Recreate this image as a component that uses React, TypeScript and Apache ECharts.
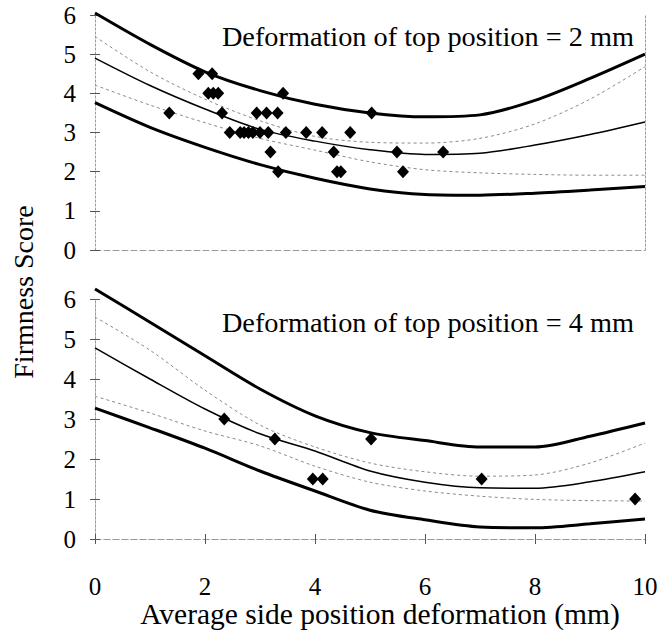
import React, { useEffect, useRef } from "react";
import * as echarts from "echarts";

// x positions at which the fitted curves / bands are read
const X_POINTS = [0, 1, 2, 3, 4, 5, 6, 7, 8, 9, 10];

// ---- Top panel: deformation of top position = 2 mm ----
const TOP_UPPER_PRED = [6.05, 5.25, 4.55, 4.07, 3.72, 3.5, 3.4, 3.45, 3.82, 4.38, 5.0];
const TOP_UPPER_CONF = [5.45, 4.55, 3.85, 3.3, 2.9, 2.75, 2.73, 2.85, 3.22, 3.85, 4.68];
const TOP_FIT = [4.9, 4.2, 3.6, 3.08, 2.78, 2.56, 2.44, 2.47, 2.68, 2.95, 3.27];
const TOP_LOWER_CONF = [4.21, 3.7, 3.25, 2.85, 2.55, 2.25, 2.05, 1.97, 1.93, 1.91, 1.91];
const TOP_LOWER_PRED = [3.76, 3.13, 2.62, 2.18, 1.83, 1.56, 1.42, 1.4, 1.45, 1.53, 1.62];
const TOP_OBS_X = [1.35, 1.88, 2.13, 2.06, 2.15, 2.24, 2.31, 2.94, 3.12, 3.32, 3.42, 2.45, 2.64, 2.71, 2.79, 2.87, 3.0, 3.15, 3.47, 3.84, 4.13, 4.64, 3.19, 4.34, 3.33, 4.4, 4.47, 5.03, 5.49, 5.6, 6.33];
const TOP_OBS_Y = [3.5, 4.5, 4.5, 4.0, 4.0, 4.0, 3.5, 3.5, 3.5, 3.5, 4.0, 3.0, 3.0, 3.0, 3.0, 3.0, 3.0, 3.0, 3.0, 3.0, 3.0, 3.0, 2.5, 2.5, 2.0, 2.0, 2.0, 3.5, 2.5, 2.0, 2.5];

// ---- Bottom panel: deformation of top position = 4 mm ----
const BOT_UPPER_PRED = [6.25, 5.42, 4.58, 3.75, 3.08, 2.66, 2.46, 2.3, 2.3, 2.57, 2.9];
const BOT_UPPER_CONF = [5.55, 4.72, 3.72, 2.85, 2.3, 1.9, 1.68, 1.57, 1.6, 1.9, 2.4];
const BOT_FIT = [4.78, 4.0, 3.25, 2.63, 2.2, 1.7, 1.42, 1.28, 1.27, 1.43, 1.68];
const BOT_LOWER_CONF = [3.57, 3.15, 2.7, 2.33, 1.82, 1.42, 1.2, 1.07, 0.99, 0.96, 0.95];
const BOT_LOWER_PRED = [3.27, 2.78, 2.27, 1.7, 1.2, 0.72, 0.48, 0.3, 0.28, 0.38, 0.5];
const BOT_OBS_X = [2.35, 3.27, 3.96, 4.14, 5.02, 7.03, 9.82];
const BOT_OBS_Y = [3.0, 2.5, 1.5, 1.5, 2.5, 1.5, 1.0];

const TOP_LABEL = "Deformation of top position = 2 mm";
const BOT_LABEL = "Deformation of top position = 4 mm";
const X_TITLE = "Average side position deformation (mm)";
const Y_TITLE = "Firmness Score";

const FONT = "Liberation Serif";
const BORDER = "#9a9a9a";

const pairs = (xs: number[], ys: number[]) => xs.map((x, i) => [x, ys[i]]);

function lineSeries(ys: number[], xi: number, yi: number, kind: "pred" | "fit" | "conf") {
  const style =
    kind === "pred"
      ? { color: "#000", width: 3, type: "solid" as const }
      : kind === "fit"
      ? { color: "#000", width: 1.5, type: "solid" as const }
      : { color: "#8a8a8a", width: 1, type: [3, 3] as any };
  return {
    type: "line",
    xAxisIndex: xi,
    yAxisIndex: yi,
    data: pairs(X_POINTS, ys),
    smooth: 0.3,
    symbol: "none",
    clip: false,
    lineStyle: style,
    z: kind === "conf" ? 2 : 3,
  };
}

function scatterSeries(xs: number[], ys: number[], xi: number, yi: number) {
  return {
    type: "scatter",
    xAxisIndex: xi,
    yAxisIndex: yi,
    data: pairs(xs, ys),
    symbol: "diamond",
    symbolSize: [12, 13],
    itemStyle: { color: "#000", opacity: 1 },
    z: 5,
  };
}

export default function App() {
  const ref = useRef<HTMLDivElement>(null);
  useEffect(() => {
    if (!ref.current) return;
    const chart = echarts.init(ref.current, undefined, { renderer: "svg" });
    const yLabel = {
      show: true,
      fontFamily: FONT,
      fontSize: 25,
      color: "#000",
      margin: 19,
      padding: [8, 0, 0, 0],
    };
    const hidden = { show: false };
    const dashedLine = { show: true, lineStyle: { color: BORDER, width: 1, type: [6, 3] as any } };
    const dottedLine = { show: true, lineStyle: { color: BORDER, width: 1, type: [2, 2] as any } };
    const tickOut = { show: true, inside: false, length: 5, lineStyle: { color: "#555", width: 1 } };
    const tickIn = { show: true, inside: true, length: 5, lineStyle: { color: "#555", width: 1 } };
    const xBase = { type: "value", min: 0, max: 10, interval: 2, splitLine: hidden };
    const yBase = { type: "value", min: 0, max: 6, interval: 1, splitLine: hidden };

    chart.setOption({
      animation: false,
      backgroundColor: "#fff",
      textStyle: { fontFamily: FONT },
      grid: [
        { left: 95, top: 15, width: 550, height: 235, outerBoundsMode: "none" },
        { left: 95, top: 299, width: 550, height: 240, outerBoundsMode: "none" },
      ],
      xAxis: [
        { ...xBase, gridIndex: 0, position: "bottom", axisLine: hidden, axisTick: hidden, axisLabel: hidden },
        { ...xBase, gridIndex: 0, position: "top", axisLine: dashedLine, axisTick: hidden, axisLabel: hidden },
        {
          ...xBase,
          gridIndex: 1,
          position: "bottom",
          axisLine: dashedLine,
          axisTick: tickOut,
          axisLabel: { show: true, fontFamily: FONT, fontSize: 25, color: "#000", margin: 35 },
        },
        { ...xBase, gridIndex: 1, position: "bottom", axisLine: hidden, axisTick: tickIn, axisLabel: hidden },
        { ...xBase, gridIndex: 1, position: "top", axisLine: dashedLine, axisTick: hidden, axisLabel: hidden },
      ],
      yAxis: [
        { ...yBase, gridIndex: 0, position: "left", axisLine: dottedLine, axisTick: tickOut, axisLabel: yLabel },
        { ...yBase, gridIndex: 0, position: "left", axisLine: hidden, axisTick: tickIn, axisLabel: hidden },
        { ...yBase, gridIndex: 0, position: "right", axisLine: dottedLine, axisTick: hidden, axisLabel: hidden },
        { ...yBase, gridIndex: 1, position: "left", axisLine: dottedLine, axisTick: tickOut, axisLabel: yLabel },
        { ...yBase, gridIndex: 1, position: "left", axisLine: hidden, axisTick: tickIn, axisLabel: hidden },
        { ...yBase, gridIndex: 1, position: "right", axisLine: dottedLine, axisTick: hidden, axisLabel: hidden },
      ],
      series: [
        lineSeries(TOP_UPPER_CONF, 0, 0, "conf"),
        lineSeries(TOP_LOWER_CONF, 0, 0, "conf"),
        lineSeries(TOP_UPPER_PRED, 0, 0, "pred"),
        lineSeries(TOP_FIT, 0, 0, "fit"),
        lineSeries(TOP_LOWER_PRED, 0, 0, "pred"),
        scatterSeries(TOP_OBS_X, TOP_OBS_Y, 0, 0),
        lineSeries(BOT_UPPER_CONF, 2, 3, "conf"),
        lineSeries(BOT_LOWER_CONF, 2, 3, "conf"),
        lineSeries(BOT_UPPER_PRED, 2, 3, "pred"),
        lineSeries(BOT_FIT, 2, 3, "fit"),
        lineSeries(BOT_LOWER_PRED, 2, 3, "pred"),
        scatterSeries(BOT_OBS_X, BOT_OBS_Y, 2, 3),
      ],
      graphic: [
        {
          type: "text",
          x: 634,
          y: 36,
          z: 10,
          style: { text: TOP_LABEL, fontFamily: FONT, fontSize: 28.3, fill: "#000", align: "right", verticalAlign: "middle" },
        },
        {
          type: "text",
          x: 634,
          y: 322,
          z: 10,
          style: { text: BOT_LABEL, fontFamily: FONT, fontSize: 28.3, fill: "#000", align: "right", verticalAlign: "middle" },
        },
        {
          type: "text",
          x: 380,
          y: 614,
          style: { text: X_TITLE, fontFamily: FONT, fontSize: 29.5, fill: "#000", align: "center", verticalAlign: "middle" },
        },
        {
          type: "text",
          x: 23,
          y: 292,
          rotation: Math.PI / 2,
          style: { text: Y_TITLE, fontFamily: FONT, fontSize: 28, fill: "#000", align: "center", verticalAlign: "middle" },
        },
      ],
    });
    return () => chart.dispose();
  }, []);
  return <div ref={ref} style={{ position: "fixed", left: 0, top: 0, width: 662, height: 631, background: "#fff" }} />;
}
